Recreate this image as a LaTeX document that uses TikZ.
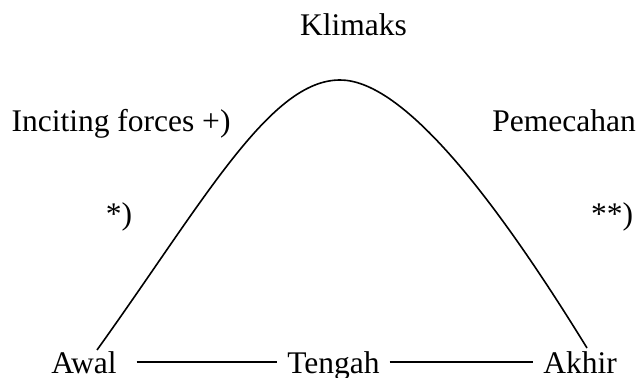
\documentclass[tikz,border=0pt]{standalone}
\usepackage{fontspec}
\setmainfont{Liberation Serif}
\usetikzlibrary{positioning,calc}

\begin{document}
\begin{tikzpicture}[
      x=0.5pt, y=-0.5pt,
      lbl/.style={anchor=base, inner xsep=5pt, inner ysep=2pt, outer sep=0pt,
                  font=\fontsize{15.75}{18}\selectfont},
      stage/.style={lbl},
      plotline/.style={line width=0.8pt, black}
    ]
    \useasboundingbox (0,0) rectangle (640,378);
    % TOP: climax and the two sides
    \node[lbl] (klimaks) at (353.5,36) {Klimaks};
    \node[lbl] (inciting) at (121,132) {Inciting forces +)};
    \node[lbl] (pemecahan) at (564,132) {Pemecahan};
    \node[lbl] (star1) at (119,225) {*)};
    \node[lbl] (star2) at (612,225) {**)};
    % BOTTOM: the three stages
    \node[stage] (awal) at (84,373) {Awal};
    \node[stage] (tengah) at (333.5,373) {Tengah};
    \node[stage] (akhir) at (580,373) {Akhir};
    % stage -> stage
    \draw[plotline] ([xshift=5pt]awal.east) -- (awal.east -| tengah.west);
    \draw[plotline] (akhir.west -| tengah.east) -- (akhir.west);
    % the plot curve
    \coordinate (peak) at (340,80);
    \draw[plotline] (97,350) .. controls (204.5,200) and (270,80) .. (peak)
                     .. controls (400,80) and (487,185.5) .. (587,348);
  \end{tikzpicture}
\end{document}
